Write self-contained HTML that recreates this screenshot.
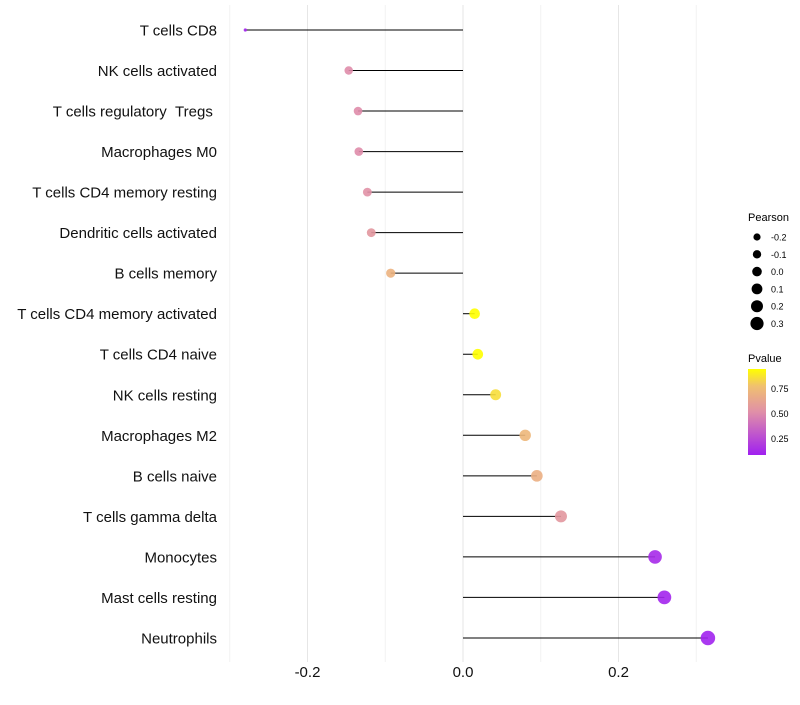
<!DOCTYPE html>
<html><head><meta charset="utf-8"><style>
body{margin:0;background:#fff;font-family:"Liberation Sans",sans-serif}
</style></head><body>
<svg width="800" height="700" xmlns="http://www.w3.org/2000/svg" font-family="Liberation Sans, sans-serif">
<g id="grid"></g><g id="marks"></g><g id="labels"></g>
<g id="legend">
<text x="748" y="221" font-size="11">Pearson</text>
<g id="sizeleg"></g>
<text x="748" y="362" font-size="11">Pvalue</text>
<defs><linearGradient id="pg" x1="0" y1="1" x2="0" y2="0">
<stop offset="0" stop-color="#A020F0"/><stop offset="0.5" stop-color="#E08FA8"/><stop offset="0.8" stop-color="#F0C070"/><stop offset="1" stop-color="#FFFF00"/></linearGradient></defs>
<rect x="748" y="369" width="18" height="86" fill="url(#pg)"/>
<text x="771" y="392" font-size="9">0.75</text>
<text x="771" y="417" font-size="9">0.50</text>
<text x="771" y="442" font-size="9">0.25</text>
</g>
</svg>
<script>
const categories=["T cells CD8","NK cells activated","T cells regulatory\u00a0\u00a0Tregs\u00a0","Macrophages M0","T cells CD4 memory resting","Dendritic cells activated","B cells memory","T cells CD4 memory activated","T cells CD4 naive","NK cells resting","Macrophages M2","B cells naive","T cells gamma delta","Monocytes","Mast cells resting","Neutrophils"];
const pearson=[-0.280,-0.147,-0.135,-0.134,-0.123,-0.118,-0.093,0.015,0.019,0.042,0.080,0.095,0.126,0.247,0.259,0.315];
const pvalues=[0.10,0.50,0.50,0.50,0.52,0.55,0.70,0.95,0.94,0.85,0.72,0.68,0.55,0.12,0.10,0.09];
const xTicks=[-0.2,0.0,0.2];
const xTickLabels=["-0.2","0.0","0.2"];
const xMinor=[-0.3,-0.1,0.1,0.3];
const sizeLegend=[-0.2,-0.1,0.0,0.1,0.2,0.3];
const NS="http://www.w3.org/2000/svg";
const x=v=>463+v*777.5;
const y=i=>30+i*40.53;
const minV=Math.min(...pearson);
const r=v=>v<=minV+1e-9?1.6:Math.max(1.6,5.2+6.5*v);
function lerp(a,b,t){return a.map((c,i)=>Math.round(c+(b[i]-c)*t));}
function color(p){const t=Math.min(1,Math.max(0,(p-0.08)/(0.94-0.08)));
const st=[[0,[160,32,240]],[0.5,[224,143,168]],[0.8,[240,192,112]],[1,[255,255,0]]];
for(let k=1;k<st.length;k++){if(t<=st[k][0]){const c=lerp(st[k-1][1],st[k][1],(t-st[k-1][0])/(st[k][0]-st[k-1][0]));return `rgb(${c})`;}}return "rgb(255,255,0)";}
function mk(tag,at,parent){const e=document.createElementNS(NS,tag);for(const k in at)e.setAttribute(k,at[k]);document.getElementById(parent).appendChild(e);return e;}
xMinor.forEach(v=>{const l=mk("line",{x1:x(v),x2:x(v),y1:5,y2:662,stroke:"#f2f2f2","stroke-width":1},"grid");

});
xTicks.forEach((v,i)=>{const l=mk("line",{x1:x(v),x2:x(v),y1:5,y2:662,stroke:"#e6e6e6","stroke-width":1},"grid");


const t=mk("text",{x:x(v),y:677,"font-size":15,"text-anchor":"middle",fill:"#111"},"labels");t.textContent=xTickLabels[i];

});
categories.forEach((c,i)=>{
const ln=mk("line",{x1:x(0),x2:x(pearson[i]),y1:y(i),y2:y(i),stroke:"#000","stroke-width":1},"marks");


const ci=mk("circle",{cx:x(pearson[i]),cy:y(i),r:r(pearson[i]),fill:color(pvalues[i]),"fill-opacity":0.9},"marks");


const t=mk("text",{x:217,y:y(i)+5.5,"font-size":15,"text-anchor":"end",fill:"#111"},"labels");t.textContent=c;

});
sizeLegend.forEach((v,i)=>{const cy=237+i*17.3;
const ci=mk("circle",{cx:757,cy:cy,r:4.8+6*v,fill:"#000"},"sizeleg");


const t=mk("text",{x:771,y:cy+3.5,"font-size":9},"sizeleg");t.textContent=v.toFixed(1);

});
</script>
</body></html>
